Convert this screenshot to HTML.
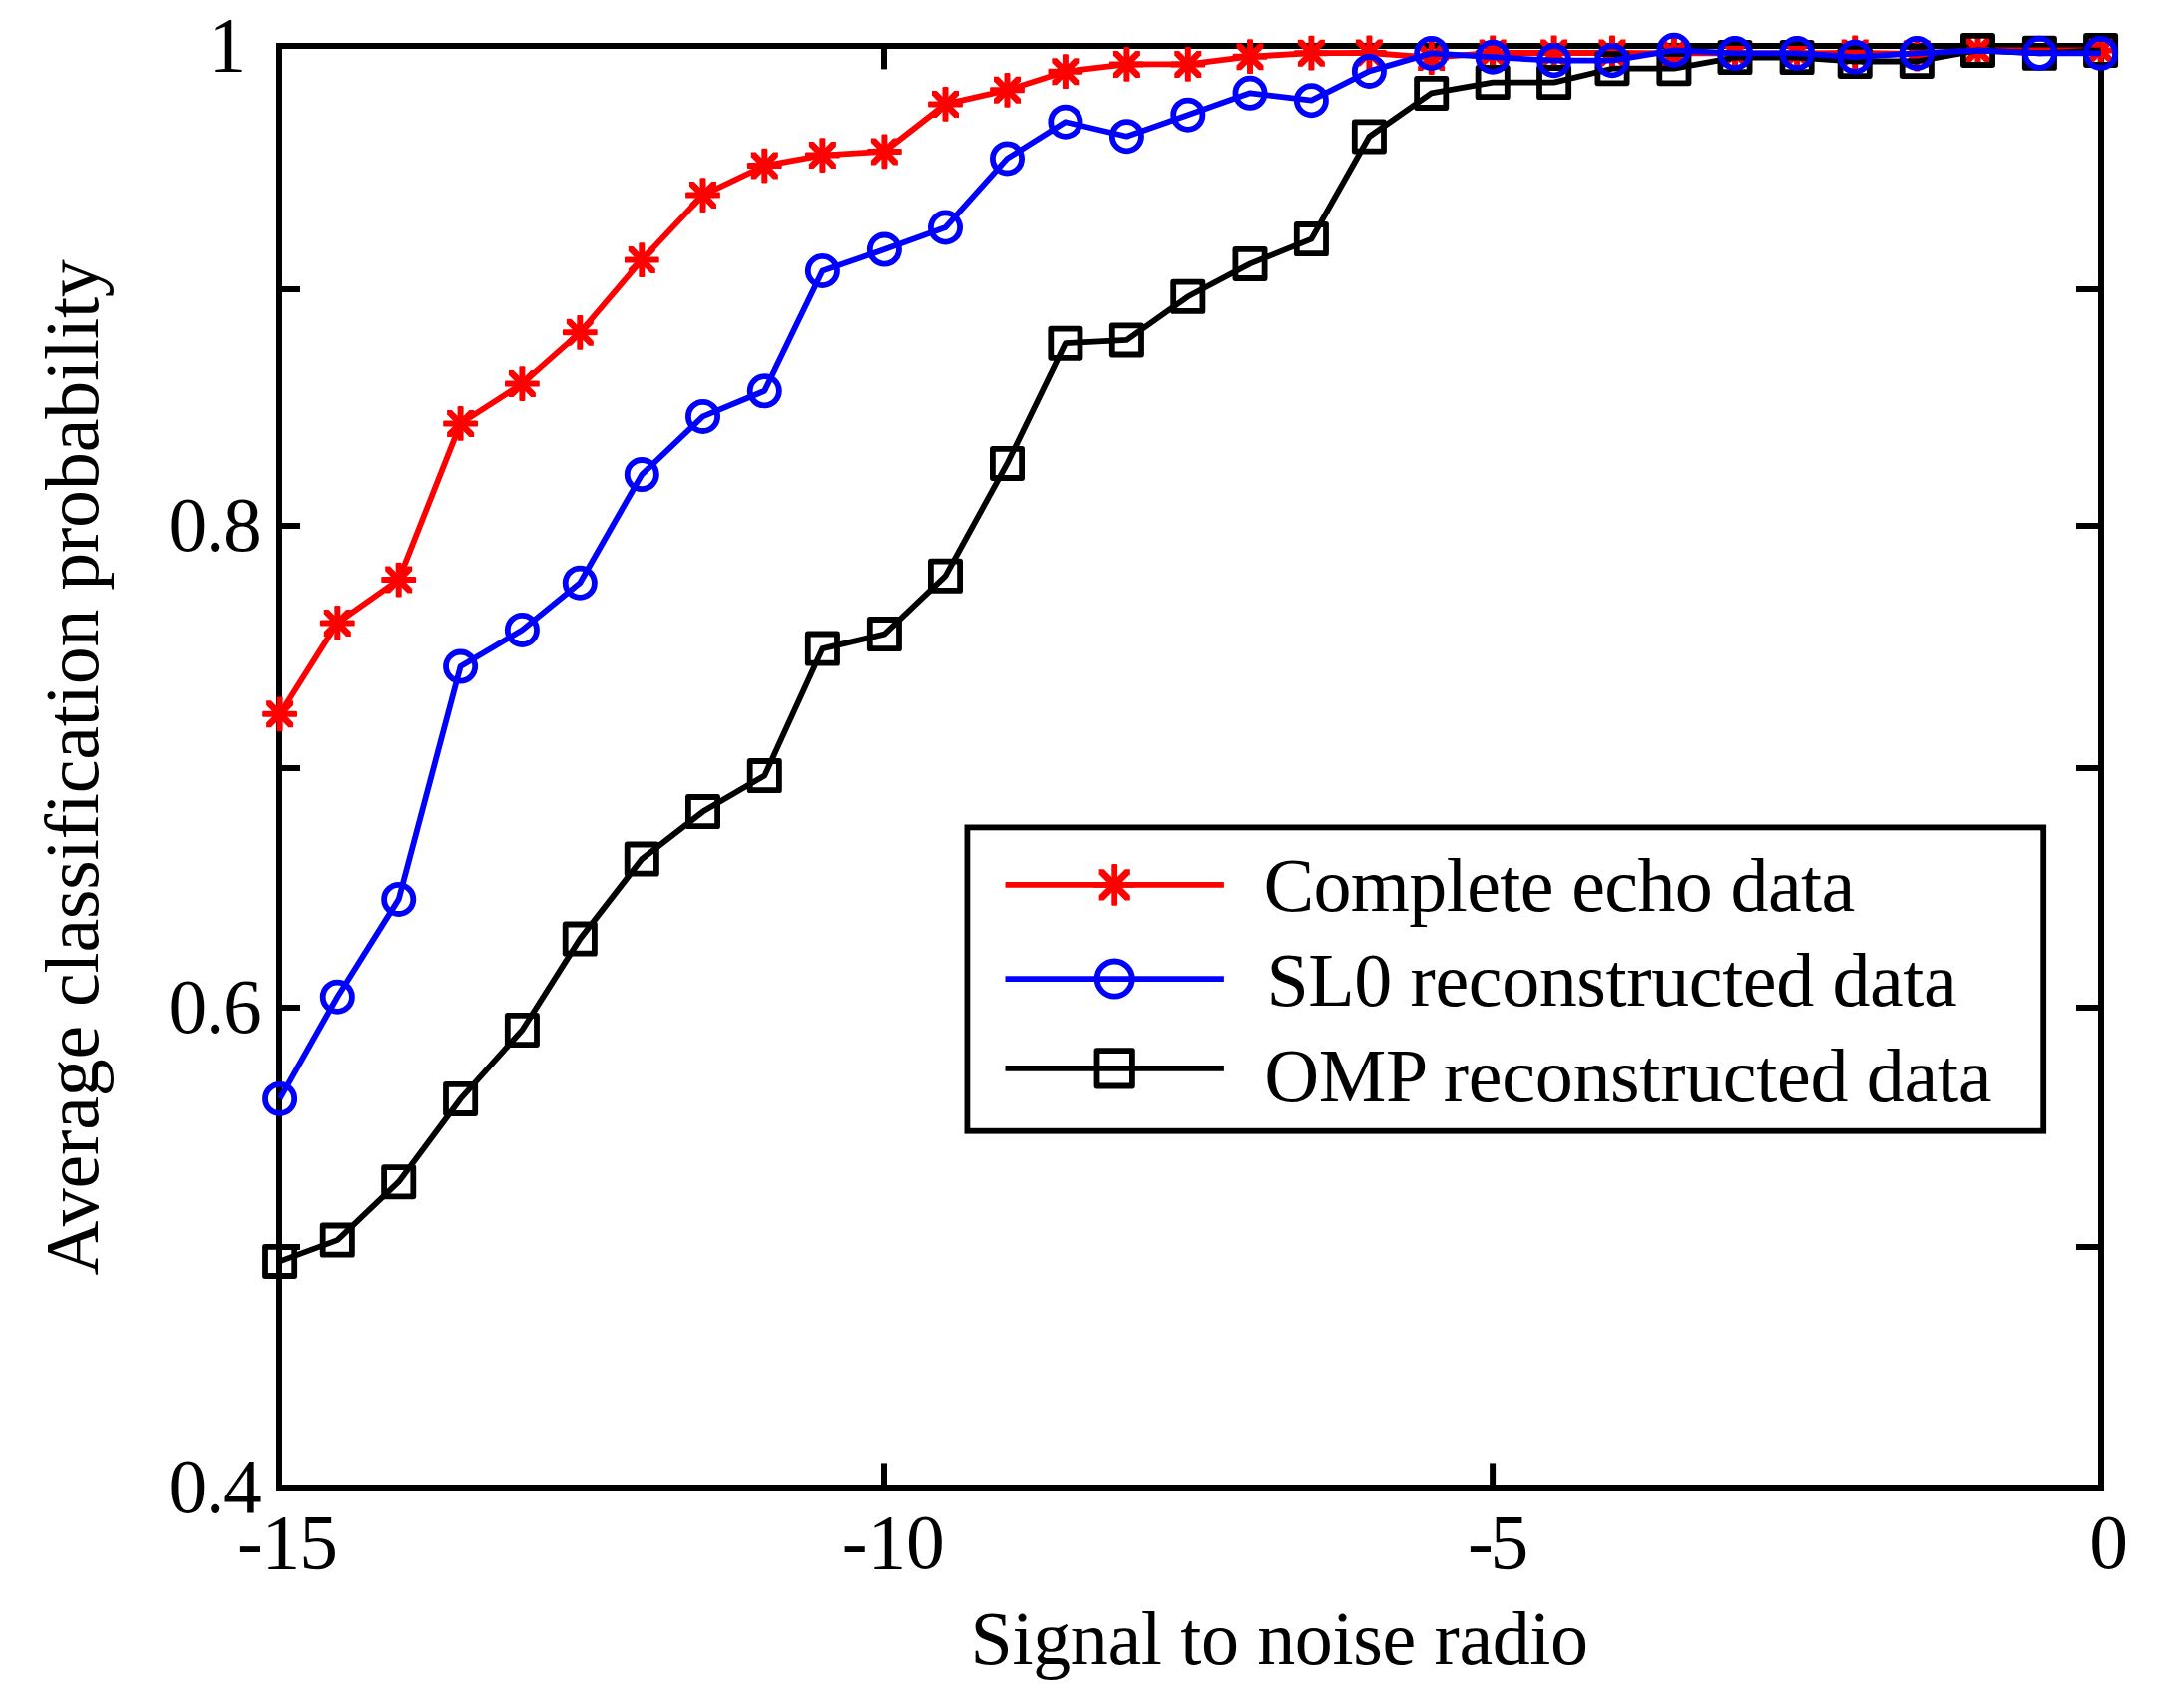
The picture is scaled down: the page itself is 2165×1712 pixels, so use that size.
<!DOCTYPE html>
<html lang="en"><head><meta charset="utf-8"><title>Average classification probability vs signal to noise radio</title>
<style>html,body{margin:0;padding:0;background:#fff}body{width:2165px;height:1712px;overflow:hidden}svg{display:block}text{font-family:"Liberation Serif", "Times New Roman", Times, serif;font-size:76px;fill:#000}</style>
</head><body>
<svg width="2165" height="1712" viewBox="0 0 2165 1712">
<rect x="0" y="0" width="2165" height="1712" fill="#fff"/>
<g fill="none" stroke="#000" stroke-width="6" stroke-linecap="butt">
<rect x="280" y="46" width="1826" height="1445"/>
<line x1="886" y1="1491" x2="886" y2="1466.4"/>
<line x1="886" y1="46" x2="886" y2="69.4"/>
<line x1="1496.1" y1="1491" x2="1496.1" y2="1466.4"/>
<line x1="1496.1" y1="46" x2="1496.1" y2="69.4"/>
<line x1="280" y1="1250" x2="301" y2="1250"/>
<line x1="2106" y1="1250" x2="2081" y2="1250"/>
<line x1="280" y1="1010" x2="301" y2="1010"/>
<line x1="2106" y1="1010" x2="2081" y2="1010"/>
<line x1="280" y1="770" x2="301" y2="770"/>
<line x1="2106" y1="770" x2="2081" y2="770"/>
<line x1="280" y1="527" x2="301" y2="527"/>
<line x1="2106" y1="527" x2="2081" y2="527"/>
<line x1="280" y1="290" x2="301" y2="290"/>
<line x1="2106" y1="290" x2="2081" y2="290"/>
</g>
<g>
<polyline points="280.6,715.8 338.3,624.4 399.7,581.1 461.6,424.4 523.4,384.6 581.3,333.3 643.3,260.6 704.5,195.6 766.3,166.1 824.4,155.6 886.4,151.9 947.5,104.4 1009.5,90.3 1067.9,71.7 1129.4,64.4 1190.8,64.4 1253,56.7 1314.4,53.2 1372.4,53 1434.7,57.6 1496.2,53 1557.6,53 1616,53 1677.9,53.4 1739,53.4 1801.1,53.4 1859.2,53 1921.3,54 1982.5,50.4 2044.4,50.4 2105.6,50.4" fill="none" stroke="#f00" stroke-width="5.8" stroke-linejoin="round"/>
<rect x="263.2" y="712.8" width="34.8" height="6" rx="1.2" fill="#f00"/><rect x="277.6" y="698.4" width="6" height="34.8" rx="1.2" fill="#f00"/><polygon points="267.1,702.3 271.8,702.3 294.1,724.6 294.1,729.3 289.4,729.3 267.1,707" fill="#f00"/><polygon points="294.1,702.3 289.4,702.3 267.1,724.6 267.1,729.3 271.8,729.3 294.1,707" fill="#f00"/>
<rect x="320.9" y="621.4" width="34.8" height="6" rx="1.2" fill="#f00"/><rect x="335.3" y="607" width="6" height="34.8" rx="1.2" fill="#f00"/><polygon points="324.8,610.9 329.5,610.9 351.8,633.2 351.8,637.9 347.1,637.9 324.8,615.6" fill="#f00"/><polygon points="351.8,610.9 347.1,610.9 324.8,633.2 324.8,637.9 329.5,637.9 351.8,615.6" fill="#f00"/>
<rect x="382.3" y="578.1" width="34.8" height="6" rx="1.2" fill="#f00"/><rect x="396.7" y="563.7" width="6" height="34.8" rx="1.2" fill="#f00"/><polygon points="386.2,567.6 390.9,567.6 413.2,589.9 413.2,594.6 408.5,594.6 386.2,572.3" fill="#f00"/><polygon points="413.2,567.6 408.5,567.6 386.2,589.9 386.2,594.6 390.9,594.6 413.2,572.3" fill="#f00"/>
<rect x="444.2" y="421.4" width="34.8" height="6" rx="1.2" fill="#f00"/><rect x="458.6" y="407" width="6" height="34.8" rx="1.2" fill="#f00"/><polygon points="448.1,410.9 452.8,410.9 475.1,433.2 475.1,437.9 470.4,437.9 448.1,415.6" fill="#f00"/><polygon points="475.1,410.9 470.4,410.9 448.1,433.2 448.1,437.9 452.8,437.9 475.1,415.6" fill="#f00"/>
<rect x="506" y="381.6" width="34.8" height="6" rx="1.2" fill="#f00"/><rect x="520.4" y="367.2" width="6" height="34.8" rx="1.2" fill="#f00"/><polygon points="509.9,371.1 514.6,371.1 536.9,393.4 536.9,398.1 532.2,398.1 509.9,375.8" fill="#f00"/><polygon points="536.9,371.1 532.2,371.1 509.9,393.4 509.9,398.1 514.6,398.1 536.9,375.8" fill="#f00"/>
<rect x="563.9" y="330.3" width="34.8" height="6" rx="1.2" fill="#f00"/><rect x="578.3" y="315.9" width="6" height="34.8" rx="1.2" fill="#f00"/><polygon points="567.8,319.8 572.5,319.8 594.8,342.1 594.8,346.8 590.1,346.8 567.8,324.5" fill="#f00"/><polygon points="594.8,319.8 590.1,319.8 567.8,342.1 567.8,346.8 572.5,346.8 594.8,324.5" fill="#f00"/>
<rect x="625.9" y="257.6" width="34.8" height="6" rx="1.2" fill="#f00"/><rect x="640.3" y="243.2" width="6" height="34.8" rx="1.2" fill="#f00"/><polygon points="629.8,247.1 634.5,247.1 656.8,269.4 656.8,274.1 652.1,274.1 629.8,251.8" fill="#f00"/><polygon points="656.8,247.1 652.1,247.1 629.8,269.4 629.8,274.1 634.5,274.1 656.8,251.8" fill="#f00"/>
<rect x="687.1" y="192.6" width="34.8" height="6" rx="1.2" fill="#f00"/><rect x="701.5" y="178.2" width="6" height="34.8" rx="1.2" fill="#f00"/><polygon points="691,182.1 695.7,182.1 718,204.4 718,209.1 713.3,209.1 691,186.8" fill="#f00"/><polygon points="718,182.1 713.3,182.1 691,204.4 691,209.1 695.7,209.1 718,186.8" fill="#f00"/>
<rect x="748.9" y="163.1" width="34.8" height="6" rx="1.2" fill="#f00"/><rect x="763.3" y="148.7" width="6" height="34.8" rx="1.2" fill="#f00"/><polygon points="752.8,152.6 757.5,152.6 779.8,174.9 779.8,179.6 775.1,179.6 752.8,157.3" fill="#f00"/><polygon points="779.8,152.6 775.1,152.6 752.8,174.9 752.8,179.6 757.5,179.6 779.8,157.3" fill="#f00"/>
<rect x="807" y="152.6" width="34.8" height="6" rx="1.2" fill="#f00"/><rect x="821.4" y="138.2" width="6" height="34.8" rx="1.2" fill="#f00"/><polygon points="810.9,142.1 815.6,142.1 837.9,164.4 837.9,169.1 833.2,169.1 810.9,146.8" fill="#f00"/><polygon points="837.9,142.1 833.2,142.1 810.9,164.4 810.9,169.1 815.6,169.1 837.9,146.8" fill="#f00"/>
<rect x="869" y="148.9" width="34.8" height="6" rx="1.2" fill="#f00"/><rect x="883.4" y="134.5" width="6" height="34.8" rx="1.2" fill="#f00"/><polygon points="872.9,138.4 877.6,138.4 899.9,160.7 899.9,165.4 895.2,165.4 872.9,143.1" fill="#f00"/><polygon points="899.9,138.4 895.2,138.4 872.9,160.7 872.9,165.4 877.6,165.4 899.9,143.1" fill="#f00"/>
<rect x="930.1" y="101.4" width="34.8" height="6" rx="1.2" fill="#f00"/><rect x="944.5" y="87" width="6" height="34.8" rx="1.2" fill="#f00"/><polygon points="934,90.9 938.7,90.9 961,113.2 961,117.9 956.3,117.9 934,95.6" fill="#f00"/><polygon points="961,90.9 956.3,90.9 934,113.2 934,117.9 938.7,117.9 961,95.6" fill="#f00"/>
<rect x="992.1" y="87.3" width="34.8" height="6" rx="1.2" fill="#f00"/><rect x="1006.5" y="72.9" width="6" height="34.8" rx="1.2" fill="#f00"/><polygon points="996,76.8 1000.7,76.8 1023,99.1 1023,103.8 1018.3,103.8 996,81.5" fill="#f00"/><polygon points="1023,76.8 1018.3,76.8 996,99.1 996,103.8 1000.7,103.8 1023,81.5" fill="#f00"/>
<rect x="1050.5" y="68.7" width="34.8" height="6" rx="1.2" fill="#f00"/><rect x="1064.9" y="54.3" width="6" height="34.8" rx="1.2" fill="#f00"/><polygon points="1054.4,58.2 1059.1,58.2 1081.4,80.5 1081.4,85.2 1076.7,85.2 1054.4,62.9" fill="#f00"/><polygon points="1081.4,58.2 1076.7,58.2 1054.4,80.5 1054.4,85.2 1059.1,85.2 1081.4,62.9" fill="#f00"/>
<rect x="1112" y="61.4" width="34.8" height="6" rx="1.2" fill="#f00"/><rect x="1126.4" y="47" width="6" height="34.8" rx="1.2" fill="#f00"/><polygon points="1115.9,50.9 1120.6,50.9 1142.9,73.2 1142.9,77.9 1138.2,77.9 1115.9,55.6" fill="#f00"/><polygon points="1142.9,50.9 1138.2,50.9 1115.9,73.2 1115.9,77.9 1120.6,77.9 1142.9,55.6" fill="#f00"/>
<rect x="1173.4" y="61.4" width="34.8" height="6" rx="1.2" fill="#f00"/><rect x="1187.8" y="47" width="6" height="34.8" rx="1.2" fill="#f00"/><polygon points="1177.3,50.9 1182,50.9 1204.3,73.2 1204.3,77.9 1199.6,77.9 1177.3,55.6" fill="#f00"/><polygon points="1204.3,50.9 1199.6,50.9 1177.3,73.2 1177.3,77.9 1182,77.9 1204.3,55.6" fill="#f00"/>
<rect x="1235.6" y="53.7" width="34.8" height="6" rx="1.2" fill="#f00"/><rect x="1250" y="39.3" width="6" height="34.8" rx="1.2" fill="#f00"/><polygon points="1239.5,43.2 1244.2,43.2 1266.5,65.5 1266.5,70.2 1261.8,70.2 1239.5,47.9" fill="#f00"/><polygon points="1266.5,43.2 1261.8,43.2 1239.5,65.5 1239.5,70.2 1244.2,70.2 1266.5,47.9" fill="#f00"/>
<rect x="1297" y="50.2" width="34.8" height="6" rx="1.2" fill="#f00"/><rect x="1311.4" y="35.8" width="6" height="34.8" rx="1.2" fill="#f00"/><polygon points="1300.9,39.7 1305.6,39.7 1327.9,62 1327.9,66.7 1323.2,66.7 1300.9,44.4" fill="#f00"/><polygon points="1327.9,39.7 1323.2,39.7 1300.9,62 1300.9,66.7 1305.6,66.7 1327.9,44.4" fill="#f00"/>
<rect x="1355" y="50" width="34.8" height="6" rx="1.2" fill="#f00"/><rect x="1369.4" y="35.6" width="6" height="34.8" rx="1.2" fill="#f00"/><polygon points="1358.9,39.5 1363.6,39.5 1385.9,61.8 1385.9,66.5 1381.2,66.5 1358.9,44.2" fill="#f00"/><polygon points="1385.9,39.5 1381.2,39.5 1358.9,61.8 1358.9,66.5 1363.6,66.5 1385.9,44.2" fill="#f00"/>
<rect x="1417.3" y="54.6" width="34.8" height="6" rx="1.2" fill="#f00"/><rect x="1431.7" y="40.2" width="6" height="34.8" rx="1.2" fill="#f00"/><polygon points="1421.2,44.1 1425.9,44.1 1448.2,66.4 1448.2,71.1 1443.5,71.1 1421.2,48.8" fill="#f00"/><polygon points="1448.2,44.1 1443.5,44.1 1421.2,66.4 1421.2,71.1 1425.9,71.1 1448.2,48.8" fill="#f00"/>
<rect x="1478.8" y="50" width="34.8" height="6" rx="1.2" fill="#f00"/><rect x="1493.2" y="35.6" width="6" height="34.8" rx="1.2" fill="#f00"/><polygon points="1482.7,39.5 1487.4,39.5 1509.7,61.8 1509.7,66.5 1505,66.5 1482.7,44.2" fill="#f00"/><polygon points="1509.7,39.5 1505,39.5 1482.7,61.8 1482.7,66.5 1487.4,66.5 1509.7,44.2" fill="#f00"/>
<rect x="1540.2" y="50" width="34.8" height="6" rx="1.2" fill="#f00"/><rect x="1554.6" y="35.6" width="6" height="34.8" rx="1.2" fill="#f00"/><polygon points="1544.1,39.5 1548.8,39.5 1571.1,61.8 1571.1,66.5 1566.4,66.5 1544.1,44.2" fill="#f00"/><polygon points="1571.1,39.5 1566.4,39.5 1544.1,61.8 1544.1,66.5 1548.8,66.5 1571.1,44.2" fill="#f00"/>
<rect x="1598.6" y="50" width="34.8" height="6" rx="1.2" fill="#f00"/><rect x="1613" y="35.6" width="6" height="34.8" rx="1.2" fill="#f00"/><polygon points="1602.5,39.5 1607.2,39.5 1629.5,61.8 1629.5,66.5 1624.8,66.5 1602.5,44.2" fill="#f00"/><polygon points="1629.5,39.5 1624.8,39.5 1602.5,61.8 1602.5,66.5 1607.2,66.5 1629.5,44.2" fill="#f00"/>
<rect x="1660.5" y="50.4" width="34.8" height="6" rx="1.2" fill="#f00"/><rect x="1674.9" y="36" width="6" height="34.8" rx="1.2" fill="#f00"/><polygon points="1664.4,39.9 1669.1,39.9 1691.4,62.2 1691.4,66.9 1686.7,66.9 1664.4,44.6" fill="#f00"/><polygon points="1691.4,39.9 1686.7,39.9 1664.4,62.2 1664.4,66.9 1669.1,66.9 1691.4,44.6" fill="#f00"/>
<rect x="1721.6" y="50.4" width="34.8" height="6" rx="1.2" fill="#f00"/><rect x="1736" y="36" width="6" height="34.8" rx="1.2" fill="#f00"/><polygon points="1725.5,39.9 1730.2,39.9 1752.5,62.2 1752.5,66.9 1747.8,66.9 1725.5,44.6" fill="#f00"/><polygon points="1752.5,39.9 1747.8,39.9 1725.5,62.2 1725.5,66.9 1730.2,66.9 1752.5,44.6" fill="#f00"/>
<rect x="1783.7" y="50.4" width="34.8" height="6" rx="1.2" fill="#f00"/><rect x="1798.1" y="36" width="6" height="34.8" rx="1.2" fill="#f00"/><polygon points="1787.6,39.9 1792.3,39.9 1814.6,62.2 1814.6,66.9 1809.9,66.9 1787.6,44.6" fill="#f00"/><polygon points="1814.6,39.9 1809.9,39.9 1787.6,62.2 1787.6,66.9 1792.3,66.9 1814.6,44.6" fill="#f00"/>
<rect x="1841.8" y="50" width="34.8" height="6" rx="1.2" fill="#f00"/><rect x="1856.2" y="35.6" width="6" height="34.8" rx="1.2" fill="#f00"/><polygon points="1845.7,39.5 1850.4,39.5 1872.7,61.8 1872.7,66.5 1868,66.5 1845.7,44.2" fill="#f00"/><polygon points="1872.7,39.5 1868,39.5 1845.7,61.8 1845.7,66.5 1850.4,66.5 1872.7,44.2" fill="#f00"/>
<rect x="1903.9" y="51" width="34.8" height="6" rx="1.2" fill="#f00"/><rect x="1918.3" y="36.6" width="6" height="34.8" rx="1.2" fill="#f00"/><polygon points="1907.8,40.5 1912.5,40.5 1934.8,62.8 1934.8,67.5 1930.1,67.5 1907.8,45.2" fill="#f00"/><polygon points="1934.8,40.5 1930.1,40.5 1907.8,62.8 1907.8,67.5 1912.5,67.5 1934.8,45.2" fill="#f00"/>
<rect x="1965.1" y="47.4" width="34.8" height="6" rx="1.2" fill="#f00"/><rect x="1979.5" y="33" width="6" height="34.8" rx="1.2" fill="#f00"/><polygon points="1969,36.9 1973.7,36.9 1996,59.2 1996,63.9 1991.3,63.9 1969,41.6" fill="#f00"/><polygon points="1996,36.9 1991.3,36.9 1969,59.2 1969,63.9 1973.7,63.9 1996,41.6" fill="#f00"/>
<rect x="2088.2" y="47.4" width="34.8" height="6" rx="1.2" fill="#f00"/><rect x="2102.6" y="33" width="6" height="34.8" rx="1.2" fill="#f00"/><polygon points="2092.1,36.9 2096.8,36.9 2119.1,59.2 2119.1,63.9 2114.4,63.9 2092.1,41.6" fill="#f00"/><polygon points="2119.1,36.9 2114.4,36.9 2092.1,59.2 2092.1,63.9 2096.8,63.9 2119.1,41.6" fill="#f00"/>
</g>
<g>
<polyline points="280.6,1264.4 338.3,1243.1 399.7,1184.7 461.6,1101.4 523.4,1032.5 581.3,941.1 643.3,861.1 704.5,813.6 766.3,777.6 824.4,650.1 886.4,635.6 947.5,577.3 1009.5,464.4 1067.9,344.2 1129.4,340.9 1190.8,297.3 1253,264.4 1314.4,239.6 1372.4,137 1434.7,93.4 1496.2,82.6 1557.6,82.6 1616,68.7 1677.9,68.7 1739,57.6 1801.1,57.6 1859.2,61.5 1921.3,61.5 1982.5,50.4 2044.4,53.3 2105.6,50.4" fill="none" stroke="#000" stroke-width="5.8" stroke-linejoin="round"/>
<rect x="266" y="1249.8" width="29.2" height="29.2" fill="none" stroke="#000" stroke-width="5.8" stroke-linejoin="round"/>
<rect x="323.7" y="1228.5" width="29.2" height="29.2" fill="none" stroke="#000" stroke-width="5.8" stroke-linejoin="round"/>
<rect x="385.1" y="1170.1" width="29.2" height="29.2" fill="none" stroke="#000" stroke-width="5.8" stroke-linejoin="round"/>
<rect x="447" y="1086.8" width="29.2" height="29.2" fill="none" stroke="#000" stroke-width="5.8" stroke-linejoin="round"/>
<rect x="508.8" y="1017.9" width="29.2" height="29.2" fill="none" stroke="#000" stroke-width="5.8" stroke-linejoin="round"/>
<rect x="566.7" y="926.5" width="29.2" height="29.2" fill="none" stroke="#000" stroke-width="5.8" stroke-linejoin="round"/>
<rect x="628.7" y="846.5" width="29.2" height="29.2" fill="none" stroke="#000" stroke-width="5.8" stroke-linejoin="round"/>
<rect x="689.9" y="799" width="29.2" height="29.2" fill="none" stroke="#000" stroke-width="5.8" stroke-linejoin="round"/>
<rect x="751.7" y="763" width="29.2" height="29.2" fill="none" stroke="#000" stroke-width="5.8" stroke-linejoin="round"/>
<rect x="809.8" y="635.5" width="29.2" height="29.2" fill="none" stroke="#000" stroke-width="5.8" stroke-linejoin="round"/>
<rect x="871.8" y="621" width="29.2" height="29.2" fill="none" stroke="#000" stroke-width="5.8" stroke-linejoin="round"/>
<rect x="932.9" y="562.7" width="29.2" height="29.2" fill="none" stroke="#000" stroke-width="5.8" stroke-linejoin="round"/>
<rect x="994.9" y="449.8" width="29.2" height="29.2" fill="none" stroke="#000" stroke-width="5.8" stroke-linejoin="round"/>
<rect x="1053.3" y="329.6" width="29.2" height="29.2" fill="none" stroke="#000" stroke-width="5.8" stroke-linejoin="round"/>
<rect x="1114.8" y="326.3" width="29.2" height="29.2" fill="none" stroke="#000" stroke-width="5.8" stroke-linejoin="round"/>
<rect x="1176.2" y="282.7" width="29.2" height="29.2" fill="none" stroke="#000" stroke-width="5.8" stroke-linejoin="round"/>
<rect x="1238.4" y="249.8" width="29.2" height="29.2" fill="none" stroke="#000" stroke-width="5.8" stroke-linejoin="round"/>
<rect x="1299.8" y="225" width="29.2" height="29.2" fill="none" stroke="#000" stroke-width="5.8" stroke-linejoin="round"/>
<rect x="1357.8" y="122.4" width="29.2" height="29.2" fill="none" stroke="#000" stroke-width="5.8" stroke-linejoin="round"/>
<rect x="1420.1" y="78.8" width="29.2" height="29.2" fill="none" stroke="#000" stroke-width="5.8" stroke-linejoin="round"/>
<rect x="1481.6" y="68" width="29.2" height="29.2" fill="none" stroke="#000" stroke-width="5.8" stroke-linejoin="round"/>
<rect x="1543" y="68" width="29.2" height="29.2" fill="none" stroke="#000" stroke-width="5.8" stroke-linejoin="round"/>
<rect x="1601.4" y="54.1" width="29.2" height="29.2" fill="none" stroke="#000" stroke-width="5.8" stroke-linejoin="round"/>
<rect x="1663.3" y="54.1" width="29.2" height="29.2" fill="none" stroke="#000" stroke-width="5.8" stroke-linejoin="round"/>
<rect x="1724.4" y="43" width="29.2" height="29.2" fill="none" stroke="#000" stroke-width="5.8" stroke-linejoin="round"/>
<rect x="1786.5" y="43" width="29.2" height="29.2" fill="none" stroke="#000" stroke-width="5.8" stroke-linejoin="round"/>
<rect x="1844.6" y="46.9" width="29.2" height="29.2" fill="none" stroke="#000" stroke-width="5.8" stroke-linejoin="round"/>
<rect x="1906.7" y="46.9" width="29.2" height="29.2" fill="none" stroke="#000" stroke-width="5.8" stroke-linejoin="round"/>
<rect x="1967.9" y="35.8" width="29.2" height="29.2" fill="none" stroke="#000" stroke-width="5.8" stroke-linejoin="round"/>
<rect x="2029.8" y="38.7" width="29.2" height="29.2" fill="none" stroke="#000" stroke-width="5.8" stroke-linejoin="round"/>
<rect x="2091" y="35.8" width="29.2" height="29.2" fill="none" stroke="#000" stroke-width="5.8" stroke-linejoin="round"/>
</g>
<g>
<polyline points="280.6,1101.4 338.3,999.2 399.7,901.4 461.6,668.1 523.4,631.4 581.3,584.2 643.3,475.6 704.5,417.4 766.3,391.8 824.4,271.5 886.4,250.1 947.5,228 1009.5,158.9 1067.9,122.2 1129.4,136.7 1190.8,115.2 1253,93.3 1314.4,100.7 1372.4,71.4 1434.7,53.4 1496.2,57.2 1557.6,60.7 1616,60.7 1677.9,50.3 1739,53.4 1801.1,53.4 1859.2,57.2 1921.3,53.4 1982.5,50.6 2044.4,53.3 2105.6,53.4" fill="none" stroke="#00f" stroke-width="5.8" stroke-linejoin="round"/>
<circle cx="280.6" cy="1101.4" r="14.6" fill="none" stroke="#00f" stroke-width="5.8"/>
<circle cx="338.3" cy="999.2" r="14.6" fill="none" stroke="#00f" stroke-width="5.8"/>
<circle cx="399.7" cy="901.4" r="14.6" fill="none" stroke="#00f" stroke-width="5.8"/>
<circle cx="461.6" cy="668.1" r="14.6" fill="none" stroke="#00f" stroke-width="5.8"/>
<circle cx="523.4" cy="631.4" r="14.6" fill="none" stroke="#00f" stroke-width="5.8"/>
<circle cx="581.3" cy="584.2" r="14.6" fill="none" stroke="#00f" stroke-width="5.8"/>
<circle cx="643.3" cy="475.6" r="14.6" fill="none" stroke="#00f" stroke-width="5.8"/>
<circle cx="704.5" cy="417.4" r="14.6" fill="none" stroke="#00f" stroke-width="5.8"/>
<circle cx="766.3" cy="391.8" r="14.6" fill="none" stroke="#00f" stroke-width="5.8"/>
<circle cx="824.4" cy="271.5" r="14.6" fill="none" stroke="#00f" stroke-width="5.8"/>
<circle cx="886.4" cy="250.1" r="14.6" fill="none" stroke="#00f" stroke-width="5.8"/>
<circle cx="947.5" cy="228" r="14.6" fill="none" stroke="#00f" stroke-width="5.8"/>
<circle cx="1009.5" cy="158.9" r="14.6" fill="none" stroke="#00f" stroke-width="5.8"/>
<circle cx="1067.9" cy="122.2" r="14.6" fill="none" stroke="#00f" stroke-width="5.8"/>
<circle cx="1129.4" cy="136.7" r="14.6" fill="none" stroke="#00f" stroke-width="5.8"/>
<circle cx="1190.8" cy="115.2" r="14.6" fill="none" stroke="#00f" stroke-width="5.8"/>
<circle cx="1253" cy="93.3" r="14.6" fill="none" stroke="#00f" stroke-width="5.8"/>
<circle cx="1314.4" cy="100.7" r="14.6" fill="none" stroke="#00f" stroke-width="5.8"/>
<circle cx="1372.4" cy="71.4" r="14.6" fill="none" stroke="#00f" stroke-width="5.8"/>
<circle cx="1434.7" cy="53.4" r="14.6" fill="none" stroke="#00f" stroke-width="5.8"/>
<circle cx="1496.2" cy="57.2" r="14.6" fill="none" stroke="#00f" stroke-width="5.8"/>
<circle cx="1557.6" cy="60.7" r="14.6" fill="none" stroke="#00f" stroke-width="5.8"/>
<circle cx="1616" cy="60.7" r="14.6" fill="none" stroke="#00f" stroke-width="5.8"/>
<circle cx="1677.9" cy="50.3" r="14.6" fill="none" stroke="#00f" stroke-width="5.8"/>
<circle cx="1739" cy="53.4" r="14.6" fill="none" stroke="#00f" stroke-width="5.8"/>
<circle cx="1801.1" cy="53.4" r="14.6" fill="none" stroke="#00f" stroke-width="5.8"/>
<circle cx="1859.2" cy="57.2" r="14.6" fill="none" stroke="#00f" stroke-width="5.8"/>
<circle cx="1921.3" cy="53.4" r="14.6" fill="none" stroke="#00f" stroke-width="5.8"/>
<circle cx="2044.4" cy="53.3" r="14.6" fill="none" stroke="#00f" stroke-width="5.8"/>
<circle cx="2105.6" cy="53.4" r="14.6" fill="none" stroke="#00f" stroke-width="5.8"/>
</g>
<rect x="969.4" y="829.4" width="1078.8" height="304.3" fill="#fff" stroke="#000" stroke-width="5.8"/>
<line x1="1007.5" y1="886.9" x2="1226.9" y2="886.9" stroke="#f00" stroke-width="5.8"/>
<rect x="1096.4" y="884" width="41.6" height="5.8" rx="1.2" fill="#f00"/><rect x="1114.3" y="866.1" width="5.8" height="41.6" rx="1.2" fill="#f00"/><polygon points="1101.6,871.3 1106.6,871.3 1132.8,897.5 1132.8,902.5 1127.8,902.5 1101.6,876.3" fill="#f00"/><polygon points="1132.8,871.3 1127.8,871.3 1101.6,897.5 1101.6,902.5 1106.6,902.5 1132.8,876.3" fill="#f00"/>
<line x1="1007.5" y1="981.1" x2="1226.9" y2="981.1" stroke="#00f" stroke-width="5.8"/>
<circle cx="1117.2" cy="981.1" r="17.6" fill="none" stroke="#00f" stroke-width="5.8"/>
<line x1="1007.5" y1="1070.8" x2="1226.9" y2="1070.8" stroke="#000" stroke-width="5.8"/>
<rect x="1099.5" y="1053.1" width="35.4" height="35.4" fill="none" stroke="#000" stroke-width="5.8" stroke-linejoin="round"/>
<text x="208.5" y="71.2" letter-spacing="0" style="font-size:77.5px">1</text>
<text x="168.6" y="552" letter-spacing="-1.4" style="font-size:77.5px">0.8</text>
<text x="168.6" y="1035" letter-spacing="-1.4" style="font-size:77.5px">0.6</text>
<text x="168.6" y="1516" letter-spacing="-1.4" style="font-size:77.5px">0.4</text>
<text x="238" y="1572" letter-spacing="-1.2" style="font-size:77.5px">-15</text>
<text x="843.8" y="1572" letter-spacing="-0.2" style="font-size:77.5px">-10</text>
<text x="1471" y="1572" letter-spacing="-3.2" style="font-size:77.5px">-5</text>
<text x="2094.3" y="1572" letter-spacing="0" style="font-size:77.5px">0</text>
<text x="972.6" y="1667.5" letter-spacing="-0.37">Signal to noise radio</text>
<text x="97.9" y="1278.4" letter-spacing="-0.18" transform="rotate(-90 97.9 1278.4)">Average classification probability</text>
<text x="1266.4" y="912.5" letter-spacing="-0.63">Complete echo data</text>
<text x="1269.4" y="1007.8" letter-spacing="-0.39">SL0 reconstructed data</text>
<text x="1267.2" y="1104.2" letter-spacing="-0.31">OMP reconstructed data</text>
</svg>
</body></html>
